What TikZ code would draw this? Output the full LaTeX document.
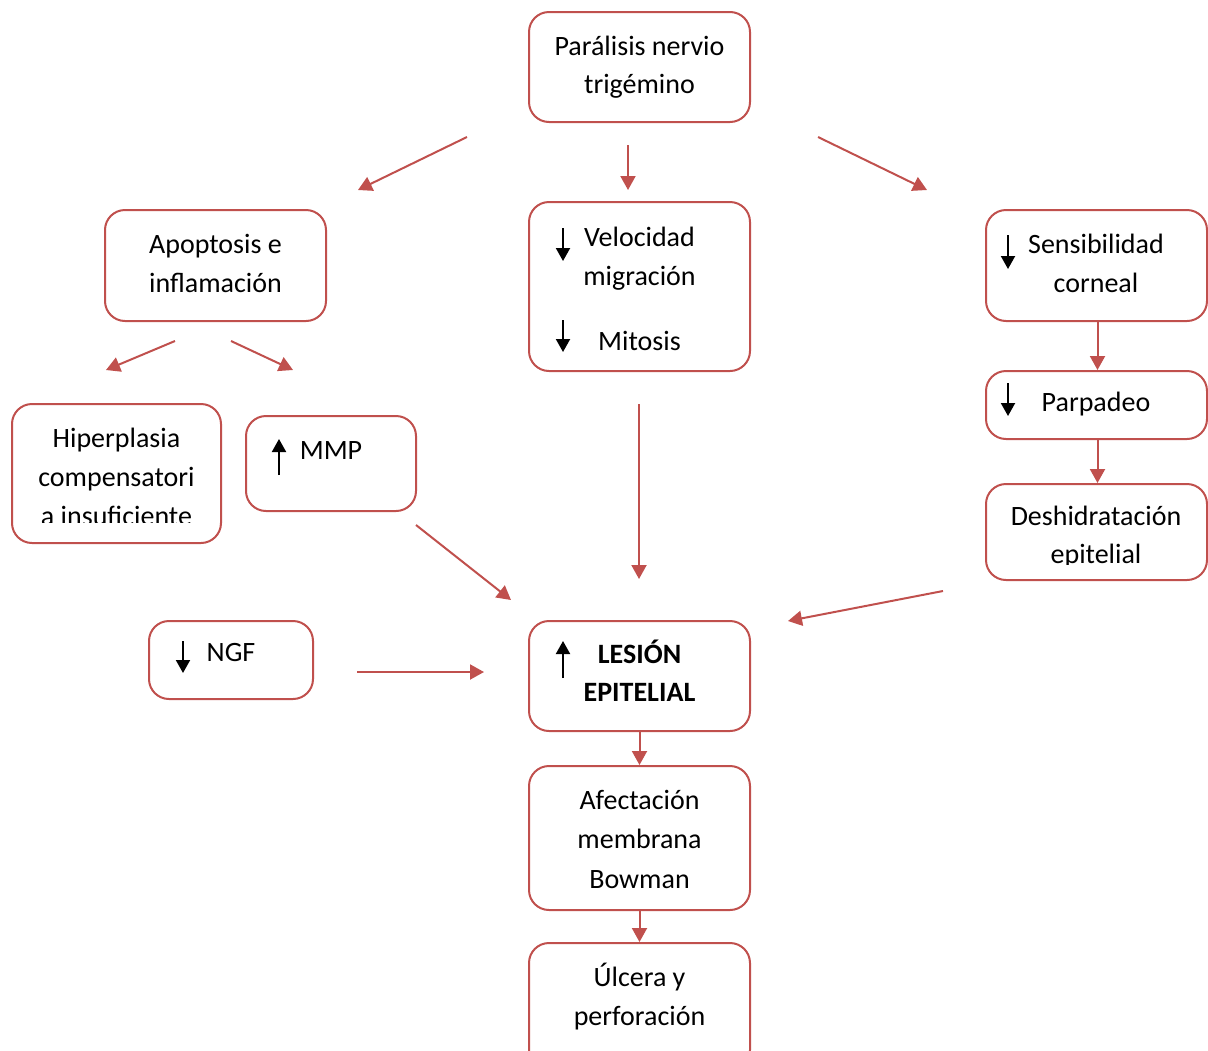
\documentclass[tikz,border=0pt]{standalone}
\usepackage{fontspec}
\setmainfont{Carlito}
\usetikzlibrary{arrows.meta}
\definecolor{boxred}{HTML}{C0504D}

\begin{document}
\begin{tikzpicture}[x=1pt,y=-1pt,
  box/.style={draw=boxred, line width=2pt, rounded corners=20pt, fill=white, inner sep=0pt},
  txt/.style={anchor=base, inner sep=0pt, font=\fontsize{28}{39}\selectfont},
  btxt/.style={txt, font=\fontsize{28}{39}\selectfont\bfseries},
  link/.style={draw=boxred, line width=2pt, -{Triangle[length=14pt,width=15pt]}},
  blk/.style={draw=black, line width=2pt, -{Triangle[length=13pt,width=14pt]}}
]
\useasboundingbox (0,0) rectangle (1208,1050);

% boxes
\node[box, minimum width=221pt, minimum height=110pt] (top)  at (639.5,67)   {};
\node[box, minimum width=221pt, minimum height=111pt] (apo)  at (215.5,265.5) {};
\node[box, minimum width=221pt, minimum height=169pt] (vel)  at (639.5,286.5) {};
\node[box, minimum width=221pt, minimum height=111pt] (sen)  at (1096.5,265.5) {};
\node[box, minimum width=221pt, minimum height=68pt]  (par)  at (1096.5,405) {};
\node[box, minimum width=221pt, minimum height=96pt]  (des)  at (1096.5,532) {};
\node[box, minimum width=209pt, minimum height=139pt] (hip)  at (116.5,473.5) {};
\node[box, minimum width=170pt, minimum height=95pt]  (mmp)  at (331,463.5) {};
\node[box, minimum width=164pt, minimum height=78pt]  (ngf)  at (231,660) {};
\node[box, minimum width=221pt, minimum height=110pt] (les)  at (639.5,676) {};
\node[box, minimum width=221pt, minimum height=144pt] (afe)  at (639.5,838) {};
\node[box, minimum width=221pt, minimum height=127pt] (ulc)  at (639.5,1006.5) {};

% texts
\node[txt] (t1a) at (639.5,55) {Parálisis nervio};
\node[txt] (t1b) at (639.5,93) {trigémino};
\node[txt] (t2a) at (215.5,253) {Apoptosis e};
\node[txt] (t2b) at (215.5,292) {inflamación};
\node[txt] (t3a) at (639.5,246) {Velocidad};
\node[txt] (t3b) at (639.5,285) {migración};
\node[txt] (t3c) at (639.5,350) {Mitosis};
\node[txt] (t4a) at (1096,253) {Sensibilidad};
\node[txt] (t4b) at (1096,292) {corneal};
\node[txt] (t5)  at (1096,411) {Parpadeo};
\begin{scope}
  \clip (986,480) rectangle (1207,564);
  \node[txt] (t6a) at (1096,525) {Deshidratación};
  \node[txt] (t6b) at (1096,563) {epitelial};
\end{scope}
\begin{scope}
  \clip (12,400) rectangle (221,522);
  \node[txt] (t7a) at (116.5,447) {Hiperplasia};
  \node[txt] (t7b) at (116.5,486) {compensatori};
  \node[txt] (t7c) at (116.5,525) {a insuficiente};
\end{scope}
\node[txt] (t8)  at (331,459) {MMP};
\node[txt] (t9)  at (231,661) {NGF};
\node[btxt] (t10a) at (639.5,663) {LESIÓN};
\node[btxt] (t10b) at (639.5,701) {EPITELIAL};
\node[txt] (t11a) at (639.5,809) {Afectación};
\node[txt] (t11b) at (639.5,848) {membrana};
\node[txt] (t11c) at (639.5,888) {Bowman};
\node[txt] (t12a) at (639.5,986) {Úlcera y};
\node[txt] (t12b) at (639.5,1025) {perforación};

% up / down markers
\draw[blk] (563,228) -- (563,261);
\draw[blk] (563,320) -- (563,352);
\draw[blk] (1008,235) -- (1008,269);
\draw[blk] (1008,383) -- (1008,416);
\draw[blk] (183,641) -- (183,673);
\draw[blk] (279,475) -- (279,439);
\draw[blk] (563,678) -- (563,641);

% free connector ends
\coordinate (a1s) at (467,137);  \coordinate (a1e) at (358,190);
\coordinate (a2s) at (628,145);  \coordinate (a2e) at (628,190);
\coordinate (a3s) at (818,137);  \coordinate (a3e) at (927,190);
\coordinate (a4s) at (175,341);  \coordinate (a4e) at (106,370);
\coordinate (a5s) at (231,341);  \coordinate (a5e) at (293,370);
\coordinate (a6s) at (639,404);  \coordinate (a6e) at (639,579);
\coordinate (a7s) at (416,525);  \coordinate (a7e) at (511,600);
\coordinate (a8s) at (943,591);  \coordinate (a8e) at (788,621);
\coordinate (a9s) at (357,672);  \coordinate (a9e) at (484,672);

\draw[link] (a1s) -- (a1e);
\draw[link] (a2s) -- (a2e);
\draw[link] (a3s) -- (a3e);
\draw[link] (a4s) -- (a4e);
\draw[link] (a5s) -- (a5e);
\draw[link] (a6s) -- (a6e);
\draw[link] (a7s) -- (a7e);
\draw[link] (a8s) -- (a8e);
\draw[link] (a9s) -- (a9e);

% attached connectors
\draw[link] (1097.5,321) -- (par.north -| 1097.5,0);
\draw[link] (1097.5,439) -- (des.north -| 1097.5,0);
\draw[link] (les.south) -- (afe.north);
\draw[link] (afe.south) -- (ulc.north);
\end{tikzpicture}
\end{document}
